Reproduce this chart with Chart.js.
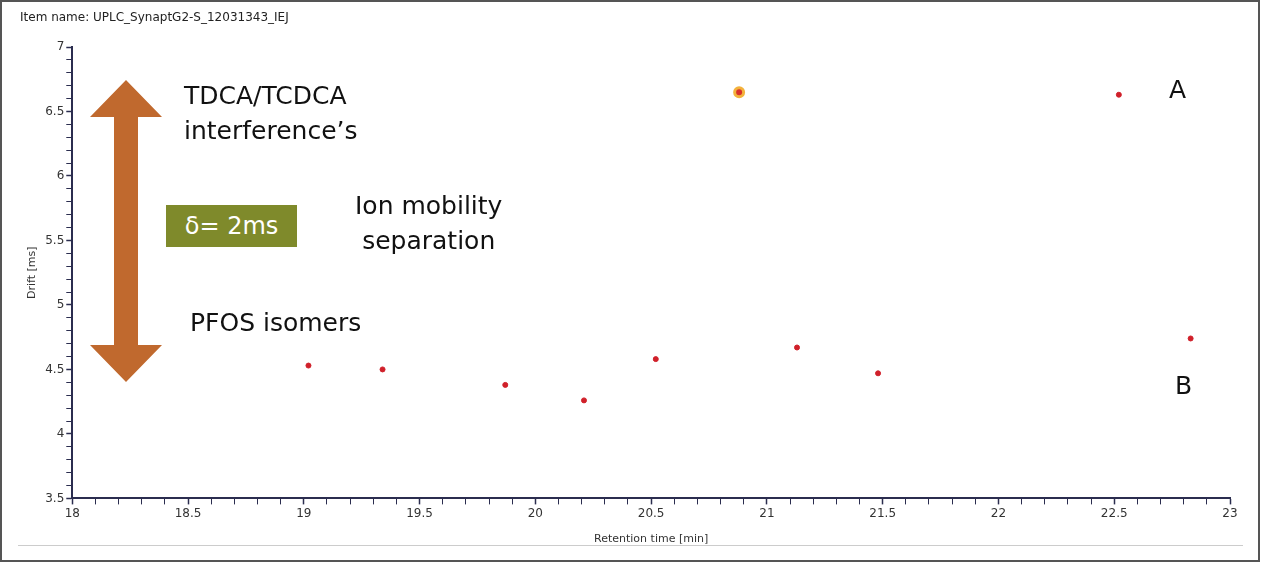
<!DOCTYPE html>
<html>
<head>
<script src="https://cdn.jsdelivr.net/npm/chart.js@4"></script>
<style>
body { margin:0; background:#fff; font-family:"DejaVu Sans", sans-serif; }
#frame { position:absolute; left:0; top:0; width:1256px; height:558px; border:2px solid #555; }
#wrap { position:absolute; left:0; top:0; width:1261px; height:563px; }
.t { position:absolute; color:#111; font-size:25px; line-height:35px; white-space:nowrap; }
#hdr { position:absolute; left:20px; top:10px; font-size:12px; color:#222; }
#sep { position:absolute; left:18px; top:545px; width:1225px; height:1px; background:#ccc; }
#box { position:absolute; left:166px; top:205px; width:131px; height:42px; background:#7f8a2b; color:#fff; font-size:24px; line-height:42px; text-align:center; }
</style>
</head>
<body>
<div id="wrap"><canvas id="c" width="1261" height="563"></canvas></div>
<div id="frame"></div>
<div id="hdr">Item name: UPLC_SynaptG2-S_12031343_IEJ</div>
<div id="sep"></div>
<svg style="position:absolute;left:0;top:0" width="300" height="400">
  <polygon points="126,80 162,117 138,117 138,345 162,345 126,382 90,345 114,345 114,117 90,117" fill="#c0692e"/>
</svg>
<div id="box">δ= 2ms</div>
<div class="t" style="left:184px;top:78px">TDCA/TCDCA<br>interference’s</div>
<div class="t" style="left:355px;top:188px;text-align:center">Ion mobility<br>separation</div>
<div class="t" style="left:190px;top:305px">PFOS isomers</div>
<div class="t" style="left:1169px;top:72px">A</div>
<div class="t" style="left:1175px;top:368px">B</div>
<script>
const retention = [19.02, 19.34, 19.87, 20.21, 20.52, 21.13, 21.48, 22.52, 22.83];
const drift = [4.53, 4.50, 4.38, 4.26, 4.58, 4.67, 4.47, 6.63, 4.74];
const hlRetention = [20.88];
const hlDrift = [6.65];

const pts = (xs, ys) => xs.map((x, i) => ({ x: x, y: ys[i] }));
const isMajor = v => Math.abs(v * 2 - Math.round(v * 2)) < 1e-6;

const axisCommon = {
  type: 'linear',
  border: { color: '#2b2d4f', width: 2 },
  grid: {
    drawOnChartArea: false,
    tickLength: 6,
    tickColor: '#2b2d4f',
    tickWidth: ctx => isMajor(ctx.tick.value) ? 1.5 : 1
  },
  ticks: {
    stepSize: 0.1,
    autoSkip: false,
    maxRotation: 0,
    minRotation: 0,
    padding: 2,
    color: '#333',
    font: { family: 'DejaVu Sans', size: 12 },
    callback: v => isMajor(v) ? String(Math.round(v * 10) / 10) : ''
  }
};

new Chart(document.getElementById('c'), {
  type: 'scatter',
  data: {
    datasets: [{
      data: pts(hlRetention, hlDrift),
      backgroundColor: '#d8302a',
      borderColor: '#f3b23c',
      borderWidth: 3,
      pointRadius: 4.5
    }, {
      data: pts(retention, drift),
      backgroundColor: '#d0202a',
      borderColor: '#d0202a',
      pointRadius: 2.5
    }]
  },
  options: {
    responsive: false,
    animation: false,
    layout: { padding: { left: 22, right: 31, top: 47, bottom: 17 } },
    plugins: { legend: { display: false }, tooltip: { enabled: false } },
    scales: {
      x: Object.assign({}, axisCommon, {
        min: 18, max: 23,
        title: { display: true, text: 'Retention time [min]', color: '#333', font: { family: 'DejaVu Sans', size: 11 }, padding: { top: 10, bottom: 0 } }
      }),
      y: Object.assign({}, axisCommon, {
        min: 3.5, max: 7,
        title: { display: true, text: 'Drift [ms]', color: '#333', font: { family: 'DejaVu Sans', size: 11 } }
      })
    }
  }
});
</script>
</body>
</html>
